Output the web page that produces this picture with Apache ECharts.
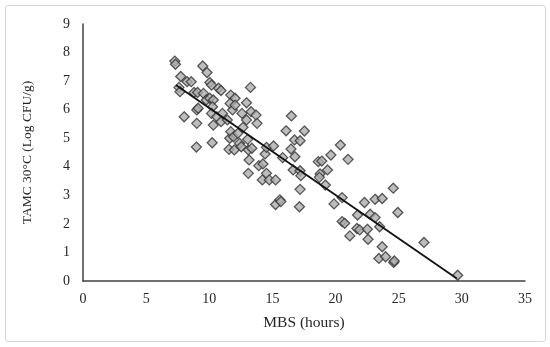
<!DOCTYPE html>
<html><head><meta charset="utf-8">
<script src="https://cdn.jsdelivr.net/npm/echarts@6/dist/echarts.min.js"></script>
<style>html,body{margin:0;padding:0;background:#fff}#wrap{position:absolute;left:5px;top:5px;width:539px;height:335px;border:1px solid #d6d6d6;border-radius:3px}#c{position:absolute;left:0;top:0;width:550px;height:347px}</style>
</head><body><div id="wrap"></div><div id="c"></div>
<script>
const xValues = [7.27,7.32,7.74,7.6,7.68,8.01,8.24,8.57,8.79,9.07,9.01,9.12,9.01,8.98,9.48,9.82,9.54,9.76,10.04,10.18,10.04,10.32,10.26,10.18,10.32,10.23,10.59,10.73,10.93,10.93,11.04,11.43,11.7,12.04,11.65,11.84,12.04,11.62,11.7,11.92,11.56,11.98,12.26,12.4,12.53,12.59,12.67,12.95,12.95,13.26,13.31,13.7,13.78,13.04,13.09,13.15,13.09,13.37,13.92,14.25,14.2,14.42,14.53,14.53,14.75,15.09,15.25,15.25,15.59,15.67,15.81,16.08,16.5,16.47,16.75,16.78,16.64,17.19,17.19,17.25,17.19,17.14,17.53,18.63,18.91,18.77,18.72,19.19,19.36,19.63,19.88,20.38,20.52,20.52,20.72,20.99,21.13,21.69,21.74,21.91,22.29,22.52,22.57,22.74,23.13,23.13,23.49,23.69,23.69,23.43,23.96,24.57,24.6,24.65,24.93,27.0,29.67];
const yValues = [7.70,7.59,7.16,6.78,6.63,5.75,6.98,6.98,6.6,6.6,5.99,6.05,5.52,4.69,7.53,7.30,6.57,6.34,6.95,6.86,6.4,6.34,6.1,5.87,5.46,4.84,5.75,6.75,6.67,5.58,5.87,5.64,6.51,6.4,6.22,5.99,6.16,5.0,5.23,5.05,4.61,4.59,5.17,4.82,4.70,5.87,5.38,6.24,5.64,6.78,5.93,5.81,5.52,4.96,4.59,4.24,3.77,4.65,4.04,4.1,3.54,4.45,4.68,3.77,3.54,4.73,3.54,2.68,2.84,2.78,4.32,5.26,5.78,4.62,4.94,4.35,3.89,4.91,3.86,3.69,3.21,2.60,5.25,4.18,4.2,3.75,3.63,3.36,3.89,4.41,2.70,4.76,2.92,2.08,2.02,4.26,1.58,1.84,2.31,1.79,2.75,1.81,1.46,2.34,2.86,2.22,1.90,2.89,1.20,0.79,0.85,3.25,0.65,0.70,2.40,1.35,0.20];
const trendX = [7.35, 29.6];
const trendY = [6.86, 0.09];
const xTicks = [0,5,10,15,20,25,30,35];
const yTicks = [0,1,2,3,4,5,6,7,8,9];

const pts = xValues.map((x,i)=>[x,yValues[i]]);
const chart = echarts.init(document.getElementById('c'), null, {renderer:'canvas'});
const font = {fontFamily:'"Liberation Serif","Times New Roman",serif', fontSize:14, color:'#262626'};
chart.setOption({
  animation:false,
  grid:{left:83,right:25,top:24,bottom:66,containLabel:false},
  xAxis:{type:'value',min:0,max:35,interval:5,
    name:'MBS (hours)',nameLocation:'middle',nameGap:34,
    nameTextStyle:Object.assign({},font,{fontSize:15.5}),
    axisLine:{lineStyle:{color:'#404040',width:1.5}},axisTick:{show:false},splitLine:{show:false},
    axisLabel:Object.assign({},font,{margin:11})},
  yAxis:{type:'value',min:0,max:9,interval:1,
    name:'TAMC 30°C (Log CFU/g)',nameLocation:'middle',nameGap:49,
    nameTextStyle:Object.assign({},font,{fontSize:13.5}),
    axisLine:{show:true,lineStyle:{color:'#404040',width:1.5}},axisTick:{show:false},splitLine:{show:false},
    axisLabel:Object.assign({},font,{margin:13})},
  series:[
    {type:'scatter',data:pts,symbol:'diamond',symbolSize:10,
      itemStyle:{color:'#adadad',borderColor:'#333',borderWidth:1.3},z:2},
    {type:'line',data:trendX.map((x,i)=>[x,trendY[i]]),symbol:'none',
      lineStyle:{color:'#111',width:1.8},z:3}
  ]
});
</script></body></html>
